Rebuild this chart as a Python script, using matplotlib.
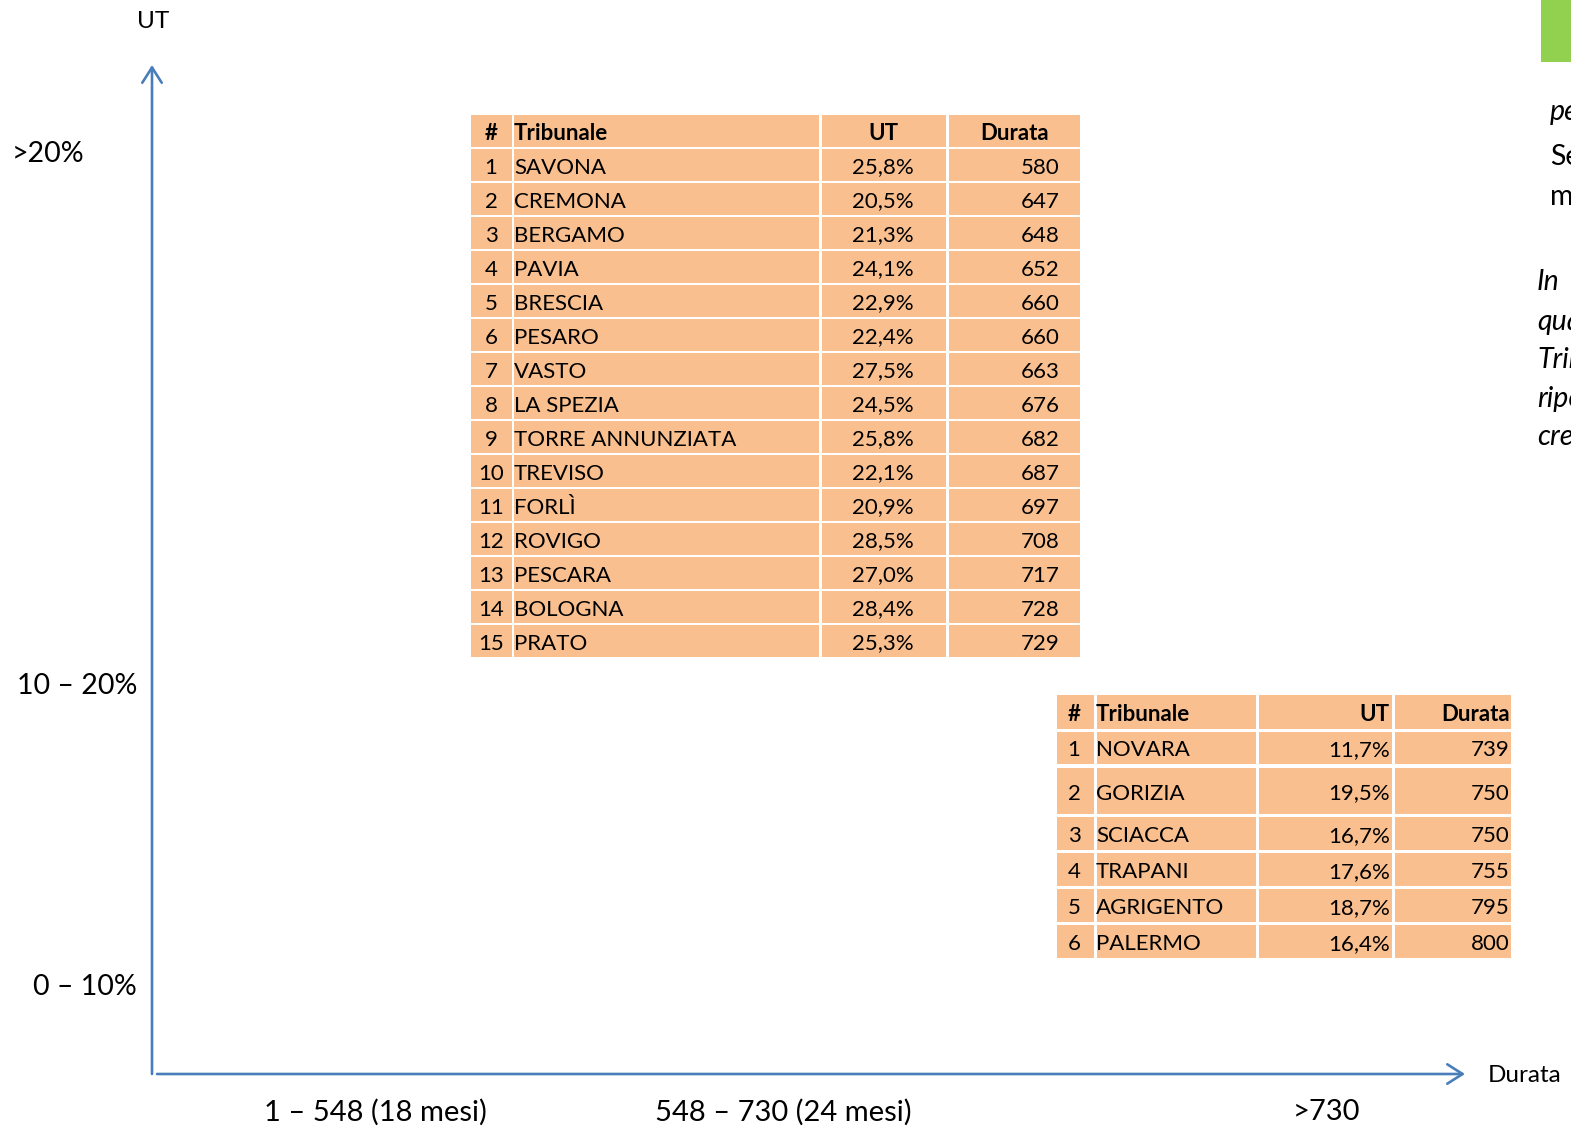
import matplotlib.pyplot as plt
from matplotlib.patches import Rectangle

plt.rcParams['font.family'] = ['Lato', 'DejaVu Sans']

# --- data ---
y_labels = ['>20%', '10 – 20%', '0 – 10%']
x_labels = ['1 – 548 (18 mesi)', '548 – 730 (24 mesi)', '>730']
headers = ['#', 'Tribunale', 'UT', 'Durata']

names_hi = ['SAVONA', 'CREMONA', 'BERGAMO', 'PAVIA', 'BRESCIA', 'PESARO', 'VASTO',
            'LA SPEZIA', 'TORRE ANNUNZIATA', 'TREVISO', 'FORLÌ', 'ROVIGO',
            'PESCARA', 'BOLOGNA', 'PRATO']
ut_hi = [25.8, 20.5, 21.3, 24.1, 22.9, 22.4, 27.5, 24.5, 25.8, 22.1, 20.9, 28.5,
         27.0, 28.4, 25.3]
durata_hi = [580, 647, 648, 652, 660, 660, 663, 676, 682, 687, 697, 708, 717, 728, 729]

names_mid = ['NOVARA', 'GORIZIA', 'SCIACCA', 'TRAPANI', 'AGRIGENTO', 'PALERMO']
ut_mid = [11.7, 19.5, 16.7, 17.6, 18.7, 16.4]
durata_mid = [739, 750, 750, 755, 795, 800]

side_text = [('pe', 'italic'), ('Se', 'normal'), ('me', 'normal'),
             ('In', 'italic'), ('qua', 'italic'), ('Trib', 'italic'),
             ('ripo', 'italic'), ('cres', 'italic')]

# --- layout (pixel coordinates of the slide) ---
W, H = 1571, 1127
blue = '#4A7EBB'
peach = '#F9BF8F'

fig = plt.figure(figsize=(W / 100, H / 100), dpi=100)
ax = fig.add_axes([0, 0, 1, 1])
ax.set_xlim(0, W)
ax.set_ylim(H, 0)
ax.axis('off')

arrow = dict(arrowstyle='->,head_length=1.1,head_width=0.7', color=blue, lw=1.9,
             shrinkA=0, shrinkB=0)
ax.annotate('', xy=(152, 65), xytext=(152, 1074), arrowprops=arrow)
ax.annotate('', xy=(1465, 1074), xytext=(157, 1074), arrowprops=arrow)

ax.text(153, 22, 'UT', fontsize=17.5, ha='center', va='center')
ax.text(1488, 1076, 'Durata', fontsize=17.5, ha='left', va='center')

for lab, y, x, ha in zip(y_labels, [154, 686, 987], [12, 137, 137], ['left', 'right', 'right']):
    ax.text(x, y, lab, fontsize=20.5, ha=ha, va='center')
for lab, x in zip(x_labels, [375, 783, 1327]):
    ax.text(x, 1112, lab, fontsize=21, ha='center', va='center')


def fmt_ut(v):
    return f'{v:.1f}%'.replace('.', ',')


def draw_table(col_edges, row_edges, rows, aligns, head_aligns):
    # col_edges / row_edges: list of (start, end) pixel spans
    for r, (y0, y1) in enumerate(row_edges):
        for c, (x0, x1) in enumerate(col_edges):
            ax.add_patch(Rectangle((x0, y0), x1 - x0, y1 - y0, facecolor=peach,
                                   edgecolor='none'))
            ha, xpos = head_aligns[c] if r == 0 else aligns[c]
            ax.text(xpos, (y0 + y1) / 2 + 2.5, rows[r][c], fontsize=16, ha=ha,
                    va='center', fontweight='bold' if r == 0 else 'normal')


# table for >20% / 548-730
rows_hi = [headers] + [[str(i + 1), n, fmt_ut(u), str(d)]
                       for i, (n, u, d) in enumerate(zip(names_hi, ut_hi, durata_hi))]
cols_hi = [(471, 512), (514, 819), (822, 946), (949, 1080)]
rows_y_hi = [(115 + 34 * i, 147 + 34 * i) for i in range(len(rows_hi))]
aligns_hi = [('center', 491), ('left', 514), ('center', 883), ('right', 1060)]
head_hi = [('center', 491), ('left', 514), ('center', 883), ('center', 1015)]
draw_table(cols_hi, rows_y_hi, rows_hi, aligns_hi, head_hi)

# table for 10-20% / >730
rows_mid = [headers] + [[str(i + 1), n, fmt_ut(u), str(d)]
                        for i, (n, u, d) in enumerate(zip(names_mid, ut_mid, durata_mid))]
cols_mid = [(1057, 1094), (1097, 1256), (1259, 1392), (1395, 1511)]
rows_y_mid = [(695, 729), (732, 764), (768, 814), (817, 850), (853, 886), (889, 922), (925, 958)]
aligns_mid = [('center', 1074), ('left', 1096), ('right', 1390), ('right', 1510)]
draw_table(cols_mid, rows_y_mid, rows_mid, aligns_mid, aligns_mid)

# cut-off content at the right edge of the slide (cut in the original too)
ax.add_patch(Rectangle((1541, 0), 40, 62, facecolor='#92D050', edgecolor='none'))
for (txt, style), x, y in zip(side_text, [1550, 1550, 1550, 1537, 1537, 1537, 1537, 1537],
                              [112, 157, 197, 282, 322, 360, 399, 437]):
    ax.text(x, y, txt, fontsize=20.5, style=style, ha='left', va='center')

fig.savefig('out.png', dpi=100)
